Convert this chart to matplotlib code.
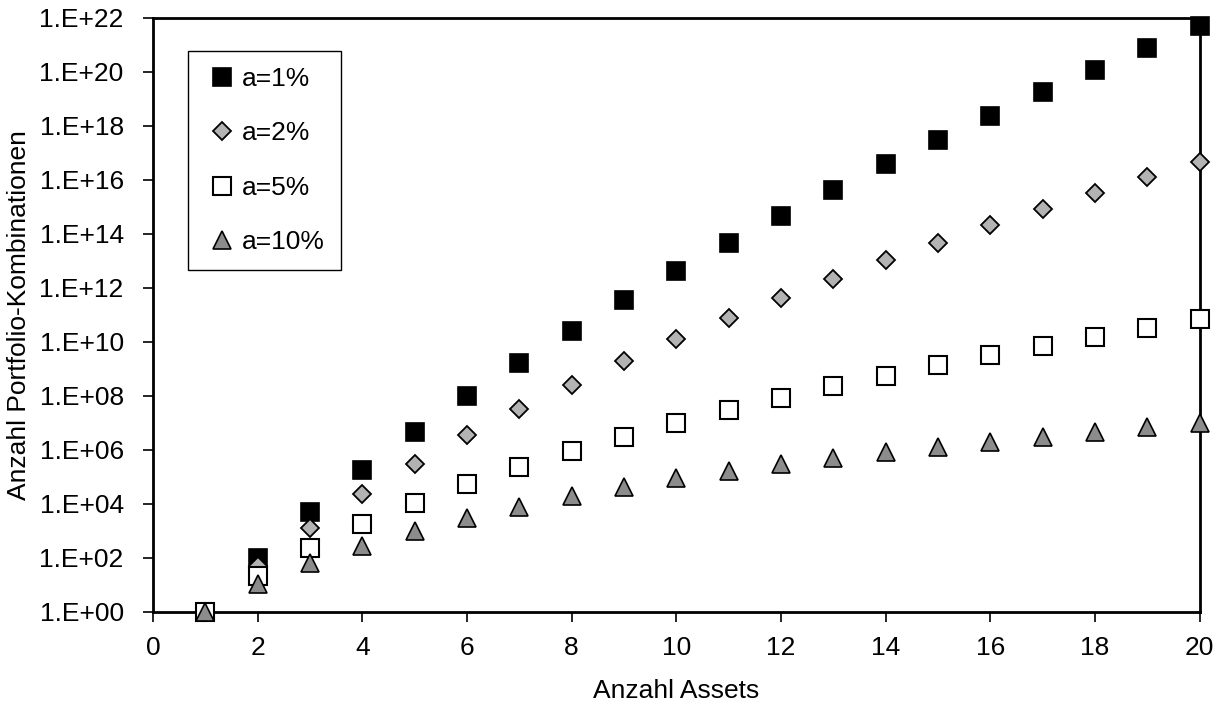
import math
import matplotlib.pyplot as plt
import matplotlib
from matplotlib.ticker import FixedLocator, FuncFormatter

matplotlib.rcParams['font.family'] = ['Liberation Sans', 'DejaVu Sans']
matplotlib.rcParams['font.size'] = 19

assets = list(range(1, 21))

# Values
a1 = [1, 101, 5.15e3, 1.77e5, 4.6e6, 9.66e7, 1.71e9, 2.61e10, 3.52e11, 4.26e12,
      4.69e13, 4.73e14, 4.42e15, 3.84e16, 3.13e17, 2.40e18, 1.74e19, 1.20e20, 7.85e20, 4.92e21]
a2 = [1, 51, 1.33e3, 2.34e4, 3.16e5, 3.48e6, 3.25e7, 2.64e8, 1.92e9, 1.26e10,
      7.54e10, 4.18e11, 2.16e12, 1.05e13, 4.79e13, 2.07e14, 8.55e14, 3.37e15, 1.27e16, 4.63e16]
a5 = [1, 21, 231, 1.77e3, 1.06e4, 5.31e4, 2.30e5, 8.88e5, 3.11e6, 1.00e7,
      3.00e7, 8.47e7, 2.26e8, 5.73e8, 1.39e9, 3.25e9, 7.31e9, 1.59e10, 3.36e10, 6.89e10]
a10 = [1, 11, 66, 286, 1001, 3003, 8008, 1.94e4, 4.38e4, 9.24e4,
       1.68e5, 2.94e5, 4.97e5, 8.17e5, 1.31e6, 2.04e6, 3.12e6, 4.69e6, 6.91e6, 1.00e7]

fig = plt.figure(figsize=(12.23, 7.08), dpi=100)
ax = fig.add_axes([0.125, 0.1356, 0.856, 0.839])

ms = 12.5
ax.plot(assets, a1, 's', ms=ms, mfc='black', mec='black', mew=1.2, label='a=1%', clip_on=False, zorder=3)
ax.plot(assets, a2, 'D', ms=ms * 0.72, mfc='#b3b3b3', mec='black', mew=1.3, label='a=2%', clip_on=False, zorder=4)
ax.plot(assets, a5, 's', ms=ms, mfc='white', mec='black', mew=1.5, label='a=5%', clip_on=False, zorder=5)
ax.plot(assets, a10, '^', ms=ms, mfc='#8c8c8c', mec='black', mew=1.2, label='a=10%', clip_on=False, zorder=6)

ax.set_yscale('log')
ax.set_ylim(1, 1e22)
ax.set_xlim(0, 20)
ax.set_xticks(range(0, 21, 2))
ax.yaxis.set_major_locator(FixedLocator([10.0 ** k for k in range(0, 23, 2)]))
ax.yaxis.set_minor_locator(FixedLocator([]))
ax.yaxis.set_major_formatter(FuncFormatter(lambda v, p: '1.E+%02d' % round(math.log10(v))))

ax.tick_params(axis='both', direction='out', length=7, width=1.2, labelsize=19)
ax.tick_params(axis='y', pad=14)
ax.tick_params(axis='x', pad=10)
for spine in ax.spines.values():
    spine.set_linewidth(2)

ax.set_xlabel('Anzahl Assets', fontsize=19, labelpad=14)
ax.set_ylabel('Anzahl Portfolio-Kombinationen', fontsize=19, labelpad=6)

leg = ax.legend(loc='upper left', bbox_to_anchor=(0.0334, 0.944), frameon=True, fancybox=False,
                edgecolor='black', framealpha=1, fontsize=19, labelspacing=1.15,
                handletextpad=0.05, handlelength=1.4, borderpad=0.6, borderaxespad=0)
leg.get_frame().set_linewidth(1)

fig.savefig('out.png', dpi=100)
